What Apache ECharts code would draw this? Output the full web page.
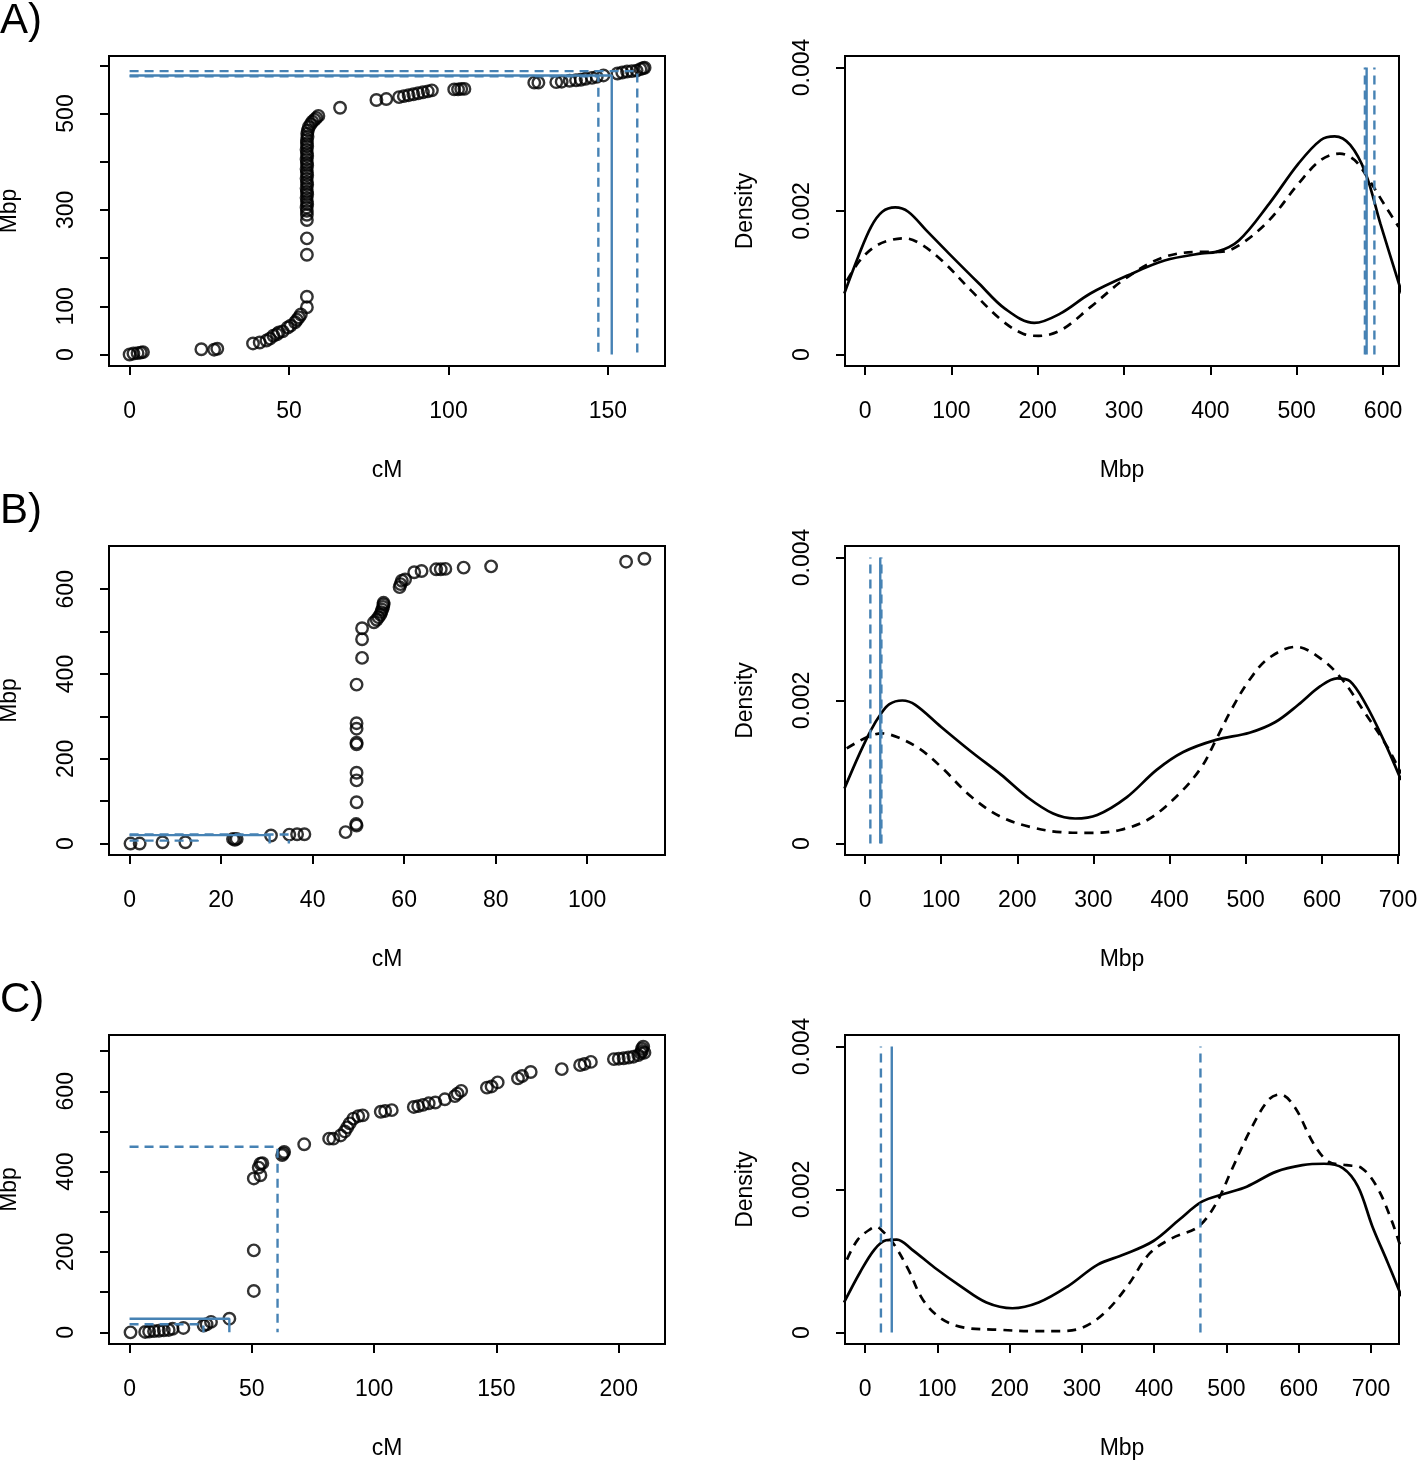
<!DOCTYPE html>
<html><head><meta charset="utf-8">
<script src="https://cdn.jsdelivr.net/npm/echarts@6/dist/echarts.min.js"></script>
<style>html,body{margin:0;padding:0;background:#fff}#c{width:1418px;height:1460px}</style>
</head><body><div id="c"></div>
<script>
// ---------------- DATA ----------------
const panelLetters = ['A)', 'B)', 'C)'];

// Left panels: marker positions [cM, Mbp]
const pointsA = [[0,0],[1.2,2],[2.5,3],[3.5,4],[4.2,5],[22.5,11],[26.5,10],[27.5,12],
 [38.7,23],[40.8,25],[42.9,29],[44,33],[45.1,39],[46.2,42],[46.8,46],[48,48],[49.6,56],[50.5,60],[51.9,67],[52.5,72],[53.1,77],[53.7,83],
 [55.6,98],[55.6,120],[55.6,207],[55.6,241],[55.6,279],[55.6,290],[55.6,298],[55.5,305],[55.7,312],[55.6,318],[55.5,325],[55.7,332],[55.6,338],[55.5,345],[55.7,352],[55.6,358],[55.5,365],[55.7,372],[55.6,378],[55.5,385],[55.7,392],[55.6,398],[55.5,405],[55.7,412],[55.6,418],[55.5,425],[55.7,432],[55.6,438],[55.6,445],[55.8,452],[55.7,458],[55.9,465],
 [56.2,472],[56.8,478],[57.3,483],[58,487],[58.6,491],[59.2,495],[66,512],[77.4,528],[80.5,530],
 [84.5,534],[86,536],[87.5,538],[89,540],[90.5,542],[92,544],[93.5,546],[94.8,548],[101.8,550],[103,550],[104,551],[105,551],
 [126.9,564],[128.2,564],[133.8,565],[135.5,566],[138,568],[140,569],[141.5,570],[143,572],[145,574],[146.5,576],[148.6,579],
 [153,583],[154.5,585],[156,587],[157.5,588],[159,589],[160.2,592],[161,594],[161.5,595]];
const pointsB = [[0.2,0],[2.2,0],[7.2,3],[12.2,3],[22.6,11],[23.4,11],[23,9],[30.9,19],[34.9,21],[36.6,22],[38.2,22],[47.2,27],
 [49.6,42.5],[49.5,46],[49.6,97.5],[49.6,149],[49.6,167],[49.6,234],[49.6,238],[49.6,271],[49.6,284],[49.6,375],[50.8,438],[50.8,482],[50.8,508],
 [53.4,522],[54,528],[54.4,534],[54.8,540],[55,546],[55.2,552],[55.4,558],[55.5,564],[55.5,568],[59,605],[59.2,612],[59.5,620],[60.2,623],
 [62.2,640],[63.8,643],[67,647],[68,647],[69,648],[73,651],[79,654],[108.5,665],[112.5,672]];
const pointsC = [[0.4,0],[6.4,1],[8,2],[10,3],[12,4],[14,5],[16,6],[17.6,9],[22,11],[30.3,17],[31.5,20],[33.3,26],[40.8,34],
 [50.8,103],[50.8,204],[50.8,383],[53.5,391],[53.5,420],[54.3,421],[52.8,410],[62.4,441],[63.2,449],[62.8,445],[71.4,468],
 [81.6,482],[83.3,482],[86.3,490],[88,500],[89,510],[90,520],[91.5,532],[93.5,538],[95.3,540],[102.7,549],[104.5,551],[107.2,553],
 [116.2,561],[118,563],[120,566],[122.3,570],[125,572],[128.9,580],[133,588],[134.1,594],[135.6,601],[146.1,609],[148,612],[150.5,622],
 [158.8,632],[160.5,638],[164,648],[176.7,655],[184.2,665],[186,668],[188.6,673],[198,680],[200,681],[202,682],[204,684],[206,686],
 [208,690],[209,695],[209.5,700],[209.5,706],[210,711],[210.5,696]];

// Estimate (solid) and interval bounds (dashed) on left panels: [cM, Mbp]
const estA = [151.2, 579], lowA = [147, 577], highA = [159.2, 588];
const estB = [30.6, 20],   lowB = [14.9, 7],  highB = [34.8, 21.5];
const estC = [40.8, 34],   lowC = [30.2, 20], highC = [60.5, 462];

// Right panels: vertical markers (Mbp)
const vSolidA = [581], vDashA = [579, 590];
const vSolidB = [20],  vDashB = [7, 21.5];
const vSolidC = [37],  vDashC = [22, 464];

// Density curves [Mbp, density]
const densA_solid = [[-24,0.00085],[-8,0.00136],[7,0.00178],[20,0.00199],[35,0.00205],[50,0.00199],[71,0.00173],[97,0.00141],[132,0.00099],[162,0.00064],[196,0.00044],[226,0.00057],[261,0.00085],[304,0.0011],[347,0.00131],[390,0.00141],[407,0.00143],[433,0.00159],[468,0.0021],[502,0.00266],[528,0.00299],[544,0.00304],[562,0.00292],[580,0.00252],[597,0.00182],[622,0.00085]];
const densA_dashed = [[-21,0.00103],[-6,0.00131],[11,0.0015],[28,0.00159],[46,0.00162],[63,0.00155],[89,0.00131],[123,0.00089],[158,0.00048],[183,0.00029],[201,0.00026],[227,0.00034],[261,0.00066],[304,0.00108],[347,0.00136],[390,0.00143],[411,0.00143],[433,0.00152],[468,0.00187],[502,0.00238],[528,0.00271],[550,0.0028],[567,0.00271],[584,0.00243],[601,0.0021],[618,0.00178]];
const densB_solid = [[-27,0.00077],[-7,0.00126],[8,0.00159],[20,0.0018],[32,0.00195],[49,0.002],[66,0.00194],[100,0.00163],[140,0.00128],[179,0.00096],[213,0.00065],[247,0.00042],[276,0.00035],[305,0.0004],[344,0.00065],[383,0.00103],[418,0.00128],[461,0.00145],[505,0.00155],[539,0.0017],[569,0.00194],[598,0.0022],[620,0.00231],[637,0.00227],[657,0.00196],[681,0.00145],[704,0.00089]];
const densB_dashed = [[-24,0.00133],[3,0.00149],[22,0.00154],[42,0.00149],[71,0.00133],[100,0.00107],[140,0.00065],[179,0.00037],[218,0.00023],[257,0.00016],[296,0.00015],[335,0.00019],[374,0.00035],[413,0.0007],[442,0.00107],[461,0.00145],[481,0.00187],[505,0.00229],[530,0.00259],[566,0.00275],[598,0.00259],[627,0.00229],[657,0.00182],[686,0.00135],[704,0.00098]];
const densC_solid = [[-29,0.00042],[-7,0.00084],[13,0.00116],[29,0.00129],[44,0.0013],[65,0.00116],[96,0.00091],[132,0.00065],[168,0.00042],[204,0.00034],[240,0.00042],[281,0.00065],[322,0.00095],[358,0.00109],[399,0.00128],[435,0.00158],[466,0.00183],[497,0.00194],[528,0.00204],[569,0.00225],[605,0.00234],[635,0.00236],[661,0.0023],[682,0.00204],[702,0.00148],[723,0.00098],[742,0.00051]];
const densC_dashed = [[-25,0.00102],[-10,0.0013],[8,0.00145],[16,0.00148],[24,0.00142],[39,0.00125],[60,0.00088],[80,0.00046],[106,0.00019],[137,0.00007],[183,0.00004],[234,0.00002],[270,0.00002],[301,0.00007],[332,0.00028],[363,0.00065],[394,0.00111],[425,0.00132],[461,0.00148],[486,0.00181],[507,0.00227],[533,0.00283],[558,0.00325],[574,0.00333],[594,0.00316],[620,0.00265],[641,0.00239],[666,0.00234],[687,0.0023],[708,0.00204],[728,0.00158],[742,0.00116]];

// Tick values / labels
const ticksA_x = [0,50,100,150], ticksA_y = [0,100,200,300,400,500,600], labelsA_y = [0,100,300,500];
const ticksB_x = [0,20,40,60,80,100], ticksB_y = [0,100,200,300,400,500,600], labelsB_y = [0,200,400,600];
const ticksC_x = [0,50,100,150,200], ticksC_y = [0,100,200,300,400,500,600,700], labelsC_y = [0,200,400,600];
const ticksDensA_x = [0,100,200,300,400,500,600];
const ticksDens_x = [0,100,200,300,400,500,600,700];
const ticksDens_y = [0,0.002,0.004];

// ---------------- CHART ----------------
const FONT = '"Liberation Sans", Arial, Helvetica, sans-serif';
const BLUE = '#4682B4';
const grids = [
  {left:109, top:56, width:556, height:310},
  {left:845, top:56, width:554, height:310},
  {left:109, top:546, width:556, height:309},
  {left:845, top:546, width:554, height:309},
  {left:109, top:1035, width:556, height:309},
  {left:845, top:1035, width:554, height:309}
].map(g => Object.assign(g, {show:true, borderColor:'#000', borderWidth:2, backgroundColor:'transparent', outerBoundsMode:'none', containLabel:false}));

function axis(isX, gi, min, max, ticks, labels, name, fmt) {
  return {
    type:'value', gridIndex:gi, min, max, position: isX ? 'bottom' : 'left',
    axisLine:{show:false, onZero:false},
    splitLine:{show:false},
    axisTick:{show:true, inside:false, length:9, lineStyle:{color:'#000', width:2}, customValues: ticks},
    axisLabel:{show:true, customValues: labels, margin: isX ? 34 : 31, fontSize:23, color:'#000', fontFamily:FONT,
      rotate: isX ? 0 : 90, formatter: fmt || (v => String(v)), hideOverlap:false},
    name, nameLocation:'middle', nameGap: isX ? 93 : 88,
    nameTextStyle:{fontSize:23, color:'#000', fontFamily:FONT}
  };
}
const densFmt = v => v === 0 ? '0' : v.toFixed(3);

const xAxes = [
  axis(true, 0, -6.46, 167.9, ticksA_x, ticksA_x, 'cM'),
  axis(true, 1, -23.2, 618.5, ticksDensA_x, ticksDensA_x, 'Mbp'),
  axis(true, 2, -4.5, 117, ticksB_x, ticksB_x, 'cM'),
  axis(true, 3, -26.3, 701.3, ticksDens_x, ticksDens_x, 'Mbp'),
  axis(true, 4, -8.4, 218.9, ticksC_x, ticksC_x, 'cM'),
  axis(true, 5, -27.7, 738.7, ticksDens_x, ticksDens_x, 'Mbp')
];
const yAxes = [
  axis(false, 0, -23.8, 619.3, ticksA_y, labelsA_y, 'Mbp'),
  axis(false, 1, -0.00016, 0.00416, ticksDens_y, ticksDens_y, 'Density', densFmt),
  axis(false, 2, -27, 702, ticksB_y, labelsB_y, 'Mbp'),
  axis(false, 3, -0.00016, 0.00416, ticksDens_y, ticksDens_y, 'Density', densFmt),
  axis(false, 4, -29, 740, ticksC_y, labelsC_y, 'Mbp'),
  axis(false, 5, -0.00016, 0.00416, ticksDens_y, ticksDens_y, 'Density', densFmt)
];

const series = [];
function scatter(idx, pts) {
  series.push({type:'scatter', xAxisIndex:idx, yAxisIndex:idx, data:pts, symbol:'circle', symbolSize:11.5,
    itemStyle:{color:'rgba(0,0,0,0)', borderColor:'#000', borderWidth:2.4}, silent:true, z:2});
}
function cross(idx, p, dashed) {
  series.push({type:'line', xAxisIndex:idx, yAxisIndex:idx, data:[[0,p[1]],[p[0],p[1]],[p[0],0]],
    symbol:'none', silent:true, z:3,
    lineStyle:{color:BLUE, width:2.4, type: dashed ? [9,6] : 'solid'}});
}
function vline(idx, v, dashed) {
  series.push({type:'line', xAxisIndex:idx, yAxisIndex:idx, data:[[v,0],[v,0.004]],
    symbol:'none', silent:true, z:3,
    lineStyle:{color:BLUE, width:2.4, type: dashed ? [9,6] : 'solid'}});
}
function dens(idx, d, dashed) {
  series.push({type:'line', xAxisIndex:idx, yAxisIndex:idx, data:d, smooth:0.35,
    symbol:'none', silent:true, z:2, clip:true,
    lineStyle:{color:'#000', width:2.7, type: dashed ? [9,7] : 'solid'}});
}

scatter(0, pointsA); cross(0, estA, false); cross(0, lowA, true); cross(0, highA, true);
scatter(2, pointsB); cross(2, estB, false); cross(2, lowB, true); cross(2, highB, true);
scatter(4, pointsC); cross(4, estC, false); cross(4, lowC, true); cross(4, highC, true);

dens(1, densA_solid, false); dens(1, densA_dashed, true);
vSolidA.forEach(v => vline(1, v, false)); vDashA.forEach(v => vline(1, v, true));
dens(3, densB_solid, false); dens(3, densB_dashed, true);
vSolidB.forEach(v => vline(3, v, false)); vDashB.forEach(v => vline(3, v, true));
dens(5, densC_solid, false); dens(5, densC_dashed, true);
vSolidC.forEach(v => vline(5, v, false)); vDashC.forEach(v => vline(5, v, true));

const letterTops = [0, 490, 979];
const chart = echarts.init(document.getElementById('c'), null, {renderer:'canvas'});
chart.setOption({
  animation:false,
  backgroundColor:'#fff',
  grid: grids, xAxis: xAxes, yAxis: yAxes, series,
  graphic: panelLetters.map((t, i) => ({type:'text', left:0, top:letterTops[i],
    style:{text:t, fontSize:42, fontFamily:FONT, fill:'#000'}}))
});
</script>
</body></html>
